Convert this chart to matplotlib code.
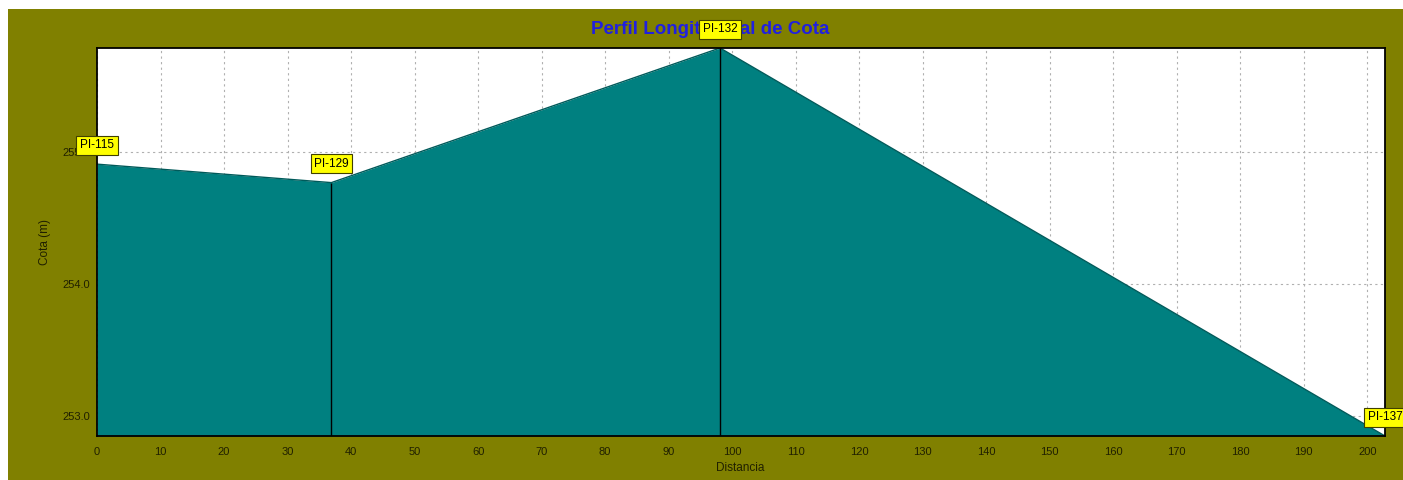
import matplotlib.pyplot as plt
from matplotlib.patches import Rectangle
from matplotlib.ticker import FormatStrFormatter

# profile points
pi_names = ['PI-115', 'PI-129', 'PI-132', 'PI-137']
distances = [0.0, 36.9, 98.1, 202.8]
elevations = [254.91, 254.77, 255.79, 252.85]

x_ticks = list(range(0, 201, 10))
y_ticks = [253.0, 254.0, 255.0]


def main():
    plt.rcParams['font.family'] = ['Liberation Sans', 'DejaVu Sans']
    fig = plt.figure(figsize=(14.03, 4.8), dpi=100)
    fig.patch.set_facecolor('white')
    fig.add_artist(Rectangle((8 / 1403, 0), 1, 1 - 9 / 480,
                             transform=fig.transFigure,
                             facecolor='#808000', edgecolor='none',
                             zorder=-2))

    ax = fig.add_axes([97 / 1403, 44 / 480, 1288 / 1403, 388 / 480])
    ax.set_facecolor('white')

    base = min(elevations)
    ax.fill_between(distances, elevations, base, color='#008080',
                    linewidth=0, zorder=2)
    ax.plot(distances, elevations, color='#005a5a', linewidth=1, zorder=3)
    ax.vlines(distances[1:-1], base, elevations[1:-1], color='black',
              linewidth=1, zorder=3)

    ax.set_xlim(distances[0], distances[-1])
    ax.set_ylim(base, max(elevations))

    ax.set_xticks(x_ticks)
    ax.set_yticks(y_ticks)
    ax.yaxis.set_major_formatter(FormatStrFormatter('%.1f'))
    ax.tick_params(axis='both', length=0, labelsize=8, colors='#202000')
    ax.tick_params(axis='x', pad=8)
    ax.tick_params(axis='y', pad=5)
    ax.grid(True, color='#b0b0b0', linestyle=(0, (2, 3)), linewidth=0.8,
            zorder=1)
    ax.set_axisbelow(True)
    for sp in ax.spines.values():
        sp.set_color('black')
        sp.set_linewidth(1.3)
        sp.set_zorder(4)

    for name, d, e in zip(pi_names, distances, elevations):
        ax.annotate(name, (d, e), xytext=(0, 13.5), textcoords='offset points',
                    ha='center', va='center', fontsize=8.5, color='black',
                    annotation_clip=False, zorder=6,
                    bbox=dict(boxstyle='square,pad=0.3', facecolor='#ffff00',
                              edgecolor='#404000', linewidth=0.8))

    # title sits behind the PI-132 label, as in the original
    fig.text(710 / 1403, 1 - 30 / 480, 'Perfil Longitudinal de Cota',
             ha='center', va='center', fontsize=13.5, fontweight='bold',
             color='#2020e0', zorder=-1)
    fig.text(45 / 1403, 1 - 242 / 480, 'Cota (m)', rotation=90,
             ha='center', va='center', fontsize=8.5, color='#202000')
    fig.text(740 / 1403, 1 - 468 / 480, 'Distancia', ha='center',
             va='center', fontsize=8.5, color='#202000')

    fig.savefig('out.png', dpi=100, facecolor=fig.get_facecolor())


if __name__ == "__main__":
    main()
